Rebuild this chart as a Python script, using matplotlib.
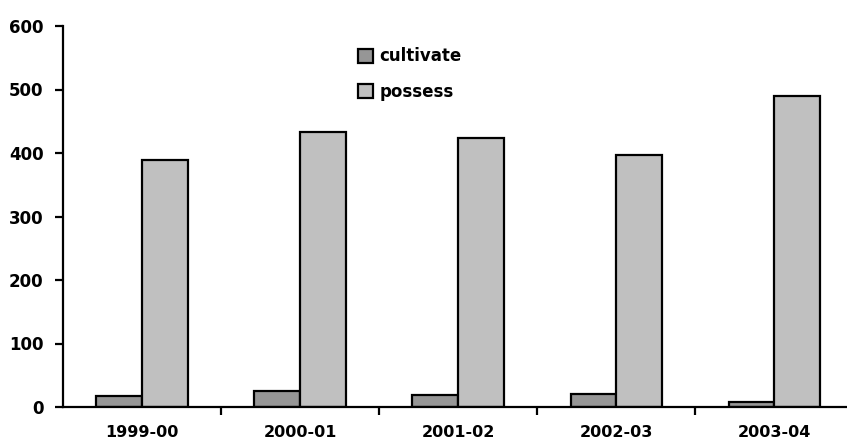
import numpy as np
import matplotlib
matplotlib.use("Agg")
import matplotlib.pyplot as plt

plt.rcParams['font.family'] = ['DejaVu Sans']
plt.rcParams['font.weight'] = 'bold'

years = ["1999-00", "2000-01", "2001-02", "2002-03", "2003-04"]
cultivate = [17, 25, 19, 20, 8]
possess = [389, 433, 423, 397, 490]

fig = plt.figure(figsize=(8.47, 4.45), dpi=100)
ax = fig.add_axes([63/847, 38/445, 790.5/847, 381/445])

x = np.arange(len(years))
w = 0.29
ax.bar(x - w/2, cultivate, w, color="#969696", edgecolor="black", linewidth=1.6, label="cultivate")
ax.bar(x + w/2, possess, w, color="#c0c0c0", edgecolor="black", linewidth=1.6, label="possess")

ax.set_xlim(-0.5, len(years) - 0.5)
ax.set_ylim(0, 600)
ax.set_yticks(range(0, 601, 100))
ax.set_xticks(x)
ax.set_xticklabels(years)
ax.set_xticks(np.arange(0.5, len(years) - 0.5, 1), minor=True)

for s in ["top", "right"]:
    ax.spines[s].set_visible(False)
for s in ["left", "bottom"]:
    ax.spines[s].set_linewidth(1.6)

ax.tick_params(axis="x", which="major", length=0, pad=13, labelsize=11.5)
ax.tick_params(axis="x", which="minor", length=6, width=1.6, direction="out")
ax.tick_params(axis="y", length=6, width=1.6, pad=8, labelsize=12)

leg = ax.legend(loc="upper left", bbox_to_anchor=(345/847, 1 - 34/445),
                bbox_transform=fig.transFigure, frameon=False,
                handlelength=0.9, handleheight=0.9, handletextpad=0.35,
                labelspacing=1.05, borderpad=0.3,
                prop={"size": 12, "weight": "bold"})

fig.savefig("out.png", dpi=100)
